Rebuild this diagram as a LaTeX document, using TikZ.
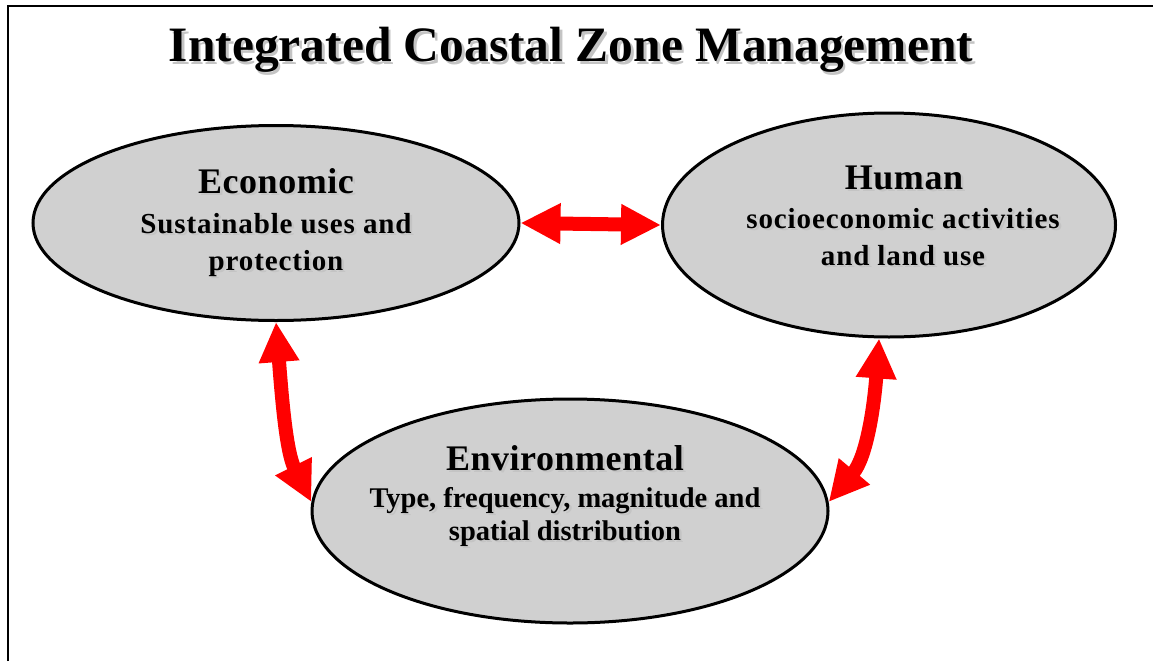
\documentclass[tikz,border=0pt]{standalone}
\usepackage{fontspec}
\setmainfont{Liberation Serif}
\usetikzlibrary{shapes.geometric}
\usetikzlibrary{arrows.meta}

\definecolor{zonegray}{RGB}{208,208,208}
\definecolor{shadegray}{RGB}{196,196,196}
\newcommand{\shd}[1]{\makebox[0pt][l]{\hspace{2.5pt}\raisebox{-2.5pt}{\textcolor{shadegray}{#1}}}#1}

\tikzset{
  zone/.style={ellipse, draw=black, line width=3pt, fill=zonegray, inner sep=0pt},
  head/.style={font=\bfseries\fontsize{36}{40}\selectfont\addfontfeatures{LetterSpace=1.5}, anchor=base, inner sep=0pt},
  sub/.style={font=\bfseries\fontsize{29}{37}\selectfont\addfontfeatures{LetterSpace=3}, align=center, anchor=north, inner sep=0pt},
  link/.style={red, line width=14pt, {Triangle[length=40pt,width=38pt]}-{Triangle[length=40pt,width=38pt]}}
}

\begin{document}
\begin{tikzpicture}[x=1pt, y=-1pt]
\useasboundingbox (0,0) rectangle (1153,661);

% frame
\draw[line width=2.5pt] (8,661) -- (8,6) -- (1153,6);

\node[font=\bfseries\fontsize{49.5}{56}\selectfont, anchor=base, inner sep=0pt] (title) at (571,62) {\shd{Integrated Coastal Zone Management}};

% the three zones
\node[zone, minimum width=486pt, minimum height=195pt] (econ) at (276,223) {};
\node[zone, minimum width=453pt, minimum height=224pt] (human) at (889,225) {};
\node[zone, minimum width=516pt, minimum height=224pt] (env) at (570,511) {};

\node[head] (econhead) at (276,193) {\shd{Economic}};
\node[sub] (econsub) at (276,213) {\shd{Sustainable uses and}\\\shd{protection}};

\node[head] (humanhead) at (904,189) {\shd{Human}};
\node[sub] (humansub) at (903,208) {\shd{socioeconomic activities}\\\shd{and land use}};

\node[head] (envhead) at (565,470) {\shd{Environmental}};
\node[sub, font=\bfseries\fontsize{28.5}{33}\selectfont] (envsub) at (565,487) {\shd{Type, frequency, magnitude and}\\\shd{spatial distribution}};

% links
\draw[link] (econ.east) -- (human.west);
\draw[link] (econ.south) .. controls +(6,78) and +(-25,-50) .. (env.178);
\draw[link] (human.-95) .. controls +(-5,68) and +(38,-45) .. (env.2);

\end{tikzpicture}
\end{document}
